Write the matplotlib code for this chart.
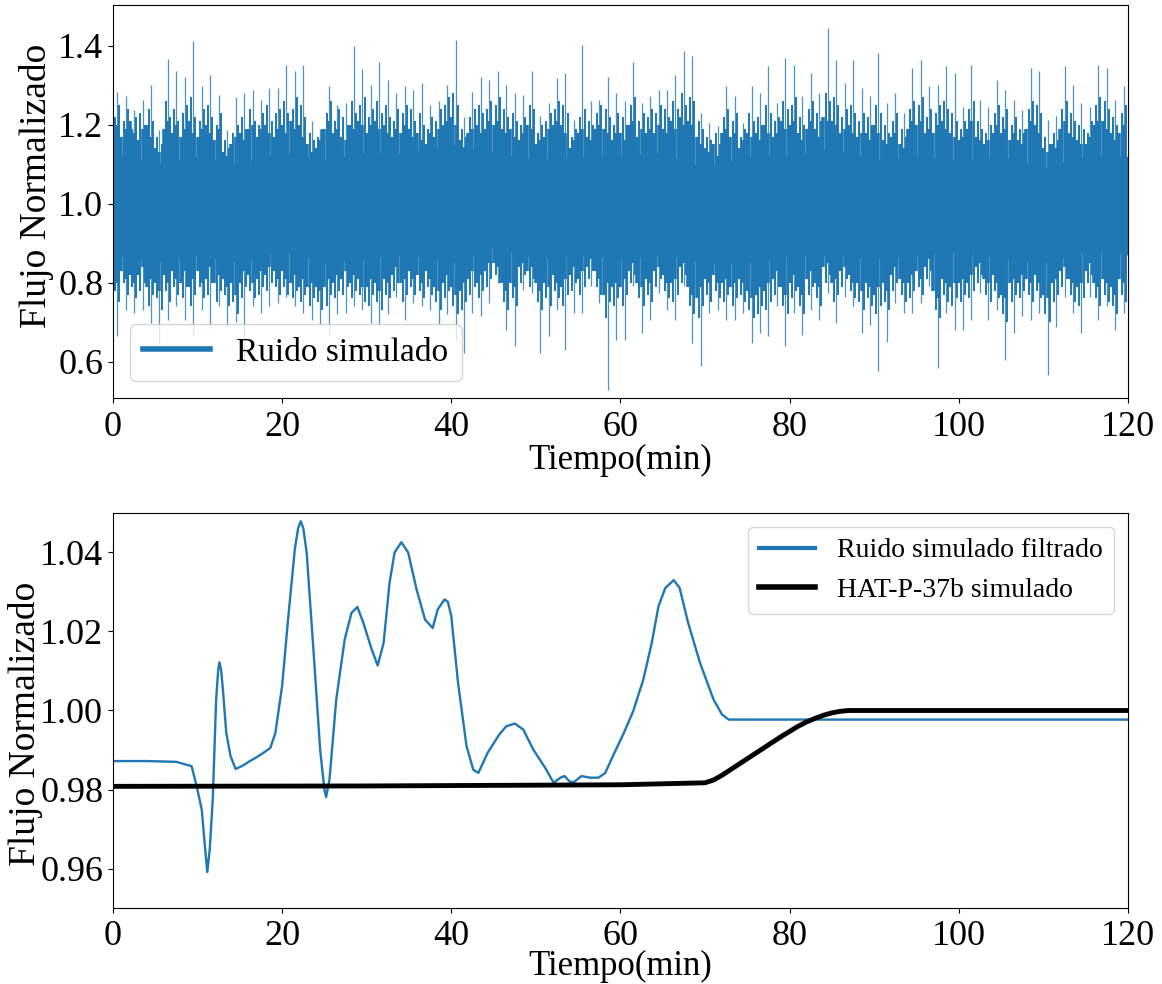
import numpy as np
import matplotlib
matplotlib.use("Agg")
import matplotlib.pyplot as plt

# ---------------- data: top panel (simulated noise) -------------
# per-minute extreme spike tips (bins centred at minute + 0.5)
noise_max = [1.284, 1.272, 1.238, 1.263, 1.301, 1.187, 1.366, 1.335, 1.322, 1.411,
             1.297, 1.327, 1.276, 1.187, 1.270, 1.280, 1.289, 1.263, 1.293, 1.293,
             1.350, 1.335, 1.352, 1.210, 1.190, 1.297, 1.251, 1.255, 1.398, 1.340,
             1.300, 1.360, 1.314, 1.280, 1.297, 1.289, 1.305, 1.250, 1.259, 1.300,
             1.415, 1.220, 1.284, 1.322, 1.314, 1.335, 1.301, 1.280, 1.276, 1.335,
             1.221, 1.255, 1.318, 1.331, 1.213, 1.403, 1.260, 1.263, 1.322, 1.280,
             1.259, 1.360, 1.255, 1.272, 1.289, 1.289, 1.327, 1.386, 1.373, 1.230,
             1.204, 1.196, 1.297, 1.272, 1.204, 1.297, 1.280, 1.348, 1.255, 1.369,
             1.352, 1.272, 1.331, 1.280, 1.446, 1.365, 1.305, 1.365, 1.293, 1.272,
             1.381, 1.255, 1.280, 1.230, 1.343, 1.365, 1.297, 1.300, 1.348, 1.331,
             1.246, 1.352, 1.263, 1.246, 1.314, 1.289, 1.263, 1.238, 1.343, 1.335,
             1.213, 1.221, 1.348, 1.301, 1.255, 1.246, 1.352, 1.343, 1.263, 1.297]
noise_min = [0.664, 0.732, 0.723, 0.732, 0.698, 0.647, 0.706, 0.740, 0.706, 0.664,
             0.732, 0.689, 0.740, 0.689, 0.700, 0.588, 0.740, 0.723, 0.740, 0.749,
             0.765, 0.740, 0.723, 0.706, 0.694, 0.664, 0.720, 0.723, 0.740, 0.730,
             0.698, 0.694, 0.720, 0.765, 0.706, 0.749, 0.740, 0.732, 0.694, 0.720,
             0.655, 0.622, 0.723, 0.715, 0.749, 0.799, 0.681, 0.639, 0.782, 0.774,
             0.622, 0.664, 0.732, 0.630, 0.723, 0.723, 0.791, 0.749, 0.529, 0.656,
             0.656, 0.791, 0.673, 0.706, 0.774, 0.732, 0.706, 0.791, 0.647, 0.588,
             0.723, 0.732, 0.706, 0.706, 0.723, 0.647, 0.673, 0.664, 0.740, 0.639,
             0.723, 0.668, 0.732, 0.706, 0.774, 0.698, 0.765, 0.740, 0.673, 0.694,
             0.576, 0.651, 0.749, 0.723, 0.723, 0.749, 0.791, 0.584, 0.723, 0.681,
             0.681, 0.706, 0.774, 0.706, 0.732, 0.605, 0.673, 0.715, 0.706, 0.723,
             0.567, 0.689, 0.765, 0.723, 0.673, 0.765, 0.706, 0.740, 0.681, 0.723]
# half-minute fringe tips (at minute + 0.25 and minute + 0.75)
fringe_max = [1.22, 1.25, 1.21, 1.24, 1.19, 1.22, 1.23, 1.20, 1.24, 1.21, 1.17, 1.15, 1.26, 1.22, 1.24, 1.21, 1.23, 1.25, 1.27, 1.22,
              1.21, 1.24, 1.25, 1.22, 1.20, 1.23, 1.16, 1.14, 1.18, 1.20, 1.22, 1.19, 1.24, 1.21, 1.20, 1.23, 1.25, 1.21, 1.23, 1.24,
              1.26, 1.23, 1.24, 1.27, 1.25, 1.22, 1.18, 1.16, 1.17, 1.19, 1.23, 1.26, 1.21, 1.24, 1.22, 1.20, 1.26, 1.23, 1.25, 1.27,
              1.22, 1.24, 1.26, 1.23, 1.25, 1.22, 1.21, 1.24, 1.23, 1.25, 1.24, 1.21, 1.23, 1.20, 1.19, 1.22, 1.21, 1.24, 1.25, 1.27,
              1.28, 1.25, 1.19, 1.17, 1.22, 1.24, 1.25, 1.23, 1.24, 1.26, 1.25, 1.27, 1.24, 1.22, 1.23, 1.21, 1.20, 1.22, 1.25, 1.24,
              1.18, 1.20, 1.21, 1.23, 1.24, 1.26, 1.25, 1.23, 1.17, 1.19, 1.22, 1.24, 1.21, 1.20, 1.23, 1.25, 1.24, 1.22, 1.20, 1.23,
              1.22, 1.20, 1.25, 1.27, 1.21, 1.23, 1.22, 1.24, 1.23, 1.25, 1.24, 1.22, 1.26, 1.24, 1.28, 1.25, 1.27, 1.26, 1.21, 1.19,
              1.17, 1.16, 1.18, 1.15, 1.22, 1.24, 1.21, 1.23, 1.17, 1.19, 1.23, 1.21, 1.22, 1.20, 1.25, 1.23, 1.21, 1.22, 1.26, 1.24,
              1.25, 1.27, 1.22, 1.20, 1.24, 1.26, 1.23, 1.21, 1.28, 1.26, 1.27, 1.25, 1.22, 1.24, 1.25, 1.23, 1.21, 1.23, 1.22, 1.20,
              1.25, 1.23, 1.20, 1.18, 1.21, 1.23, 1.19, 1.17, 1.24, 1.26, 1.25, 1.27, 1.22, 1.24, 1.23, 1.25, 1.26, 1.24, 1.23, 1.21,
              1.19, 1.21, 1.24, 1.26, 1.21, 1.19, 1.18, 1.20, 1.23, 1.25, 1.22, 1.24, 1.20, 1.22, 1.19, 1.18, 1.24, 1.26, 1.25, 1.23,
              1.17, 1.15, 1.18, 1.16, 1.24, 1.26, 1.23, 1.21, 1.20, 1.19, 1.18, 1.21, 1.25, 1.27, 1.26, 1.24, 1.22, 1.20, 1.23, 1.25]
fringe_min = [0.78, 0.75, 0.80, 0.77, 0.79, 0.76, 0.78, 0.80, 0.74, 0.77, 0.76, 0.73, 0.78, 0.75, 0.79, 0.77, 0.76, 0.79, 0.74, 0.77,
              0.79, 0.76, 0.77, 0.80, 0.75, 0.78, 0.77, 0.74, 0.75, 0.72, 0.76, 0.79, 0.78, 0.76, 0.77, 0.79, 0.78, 0.80, 0.79, 0.77,
              0.79, 0.77, 0.76, 0.78, 0.75, 0.77, 0.74, 0.76, 0.75, 0.73, 0.74, 0.77, 0.76, 0.78, 0.77, 0.79, 0.76, 0.78, 0.77, 0.75,
              0.74, 0.77, 0.75, 0.73, 0.77, 0.76, 0.78, 0.80, 0.75, 0.77, 0.79, 0.77, 0.78, 0.76, 0.79, 0.77, 0.75, 0.73, 0.76, 0.78,
              0.74, 0.72, 0.73, 0.75, 0.77, 0.79, 0.76, 0.78, 0.79, 0.81, 0.82, 0.80, 0.75, 0.73, 0.76, 0.74, 0.80, 0.82, 0.79, 0.81,
              0.75, 0.73, 0.76, 0.74, 0.78, 0.76, 0.74, 0.77, 0.78, 0.80, 0.77, 0.79, 0.81, 0.83, 0.79, 0.77, 0.71, 0.75, 0.74, 0.76,
              0.74, 0.77, 0.80, 0.82, 0.76, 0.74, 0.77, 0.75, 0.79, 0.81, 0.78, 0.76, 0.75, 0.77, 0.80, 0.82, 0.74, 0.72, 0.71, 0.74,
              0.77, 0.75, 0.78, 0.76, 0.75, 0.77, 0.74, 0.76, 0.77, 0.75, 0.73, 0.71, 0.72, 0.74, 0.73, 0.75, 0.77, 0.79, 0.74, 0.72,
              0.76, 0.78, 0.74, 0.72, 0.77, 0.79, 0.76, 0.74, 0.80, 0.82, 0.75, 0.77, 0.79, 0.81, 0.78, 0.76, 0.75, 0.73, 0.76, 0.74,
              0.72, 0.74, 0.75, 0.73, 0.78, 0.80, 0.77, 0.75, 0.76, 0.78, 0.79, 0.77, 0.81, 0.83, 0.73, 0.71, 0.77, 0.75, 0.74, 0.76,
              0.75, 0.77, 0.76, 0.78, 0.80, 0.82, 0.77, 0.75, 0.78, 0.76, 0.72, 0.70, 0.75, 0.77, 0.76, 0.78, 0.77, 0.75, 0.78, 0.76,
              0.72, 0.70, 0.75, 0.77, 0.79, 0.81, 0.77, 0.75, 0.74, 0.76, 0.80, 0.82, 0.76, 0.74, 0.77, 0.75, 0.74, 0.72, 0.77, 0.75]
# half-minute inner tips near the dense band (at minute + 0.0 and minute + 0.5)
inner_max = [1.18, 1.20, 1.17, 1.19, 1.21, 1.18, 1.16, 1.19, 1.20, 1.17, 1.14, 1.13, 1.19, 1.21, 1.18, 1.20, 1.17, 1.19, 1.21, 1.18,
             1.17, 1.19, 1.20, 1.18, 1.16, 1.19, 1.13, 1.12, 1.15, 1.17, 1.18, 1.16, 1.19, 1.20, 1.17, 1.19, 1.20, 1.18, 1.17, 1.19,
             1.20, 1.18, 1.21, 1.19, 1.20, 1.17, 1.15, 1.13, 1.14, 1.16, 1.19, 1.21, 1.18, 1.19, 1.17, 1.16, 1.20, 1.19, 1.21, 1.20,
             1.18, 1.20, 1.21, 1.19, 1.20, 1.18, 1.17, 1.19, 1.18, 1.20, 1.19, 1.17, 1.18, 1.16, 1.15, 1.18, 1.17, 1.19, 1.20, 1.21,
             1.22, 1.20, 1.16, 1.14, 1.18, 1.19, 1.20, 1.18, 1.19, 1.21, 1.20, 1.21, 1.19, 1.18, 1.19, 1.17, 1.16, 1.18, 1.20, 1.19,
             1.15, 1.16, 1.17, 1.19, 1.20, 1.21, 1.20, 1.18, 1.14, 1.16, 1.18, 1.19, 1.17, 1.16, 1.19, 1.20, 1.19, 1.18, 1.16, 1.18,
             1.18, 1.16, 1.20, 1.21, 1.17, 1.19, 1.18, 1.19, 1.18, 1.20, 1.19, 1.18, 1.21, 1.19, 1.22, 1.20, 1.21, 1.20, 1.17, 1.15,
             1.14, 1.13, 1.15, 1.12, 1.18, 1.19, 1.17, 1.18, 1.14, 1.16, 1.18, 1.17, 1.18, 1.16, 1.20, 1.18, 1.17, 1.18, 1.21, 1.19,
             1.20, 1.21, 1.18, 1.16, 1.19, 1.21, 1.19, 1.17, 1.22, 1.21, 1.21, 1.20, 1.18, 1.19, 1.20, 1.18, 1.17, 1.18, 1.18, 1.16,
             1.20, 1.18, 1.16, 1.15, 1.17, 1.18, 1.15, 1.14, 1.19, 1.21, 1.20, 1.21, 1.18, 1.19, 1.18, 1.20, 1.21, 1.19, 1.18, 1.17,
             1.16, 1.17, 1.19, 1.21, 1.17, 1.16, 1.15, 1.16, 1.18, 1.20, 1.18, 1.19, 1.16, 1.18, 1.16, 1.15, 1.19, 1.21, 1.20, 1.18,
             1.14, 1.13, 1.15, 1.14, 1.19, 1.21, 1.18, 1.17, 1.16, 1.15, 1.15, 1.17, 1.20, 1.21, 1.21, 1.19, 1.18, 1.16, 1.18, 1.20]
inner_min = [0.82, 0.80, 0.83, 0.81, 0.82, 0.80, 0.82, 0.84, 0.79, 0.81, 0.80, 0.78, 0.82, 0.80, 0.83, 0.81, 0.80, 0.83, 0.79, 0.81,
             0.83, 0.80, 0.81, 0.84, 0.80, 0.82, 0.81, 0.79, 0.80, 0.77, 0.80, 0.83, 0.82, 0.80, 0.81, 0.83, 0.82, 0.84, 0.83, 0.81,
             0.83, 0.81, 0.80, 0.82, 0.79, 0.81, 0.79, 0.80, 0.79, 0.78, 0.79, 0.81, 0.80, 0.82, 0.81, 0.83, 0.80, 0.82, 0.81, 0.79,
             0.79, 0.81, 0.80, 0.78, 0.81, 0.80, 0.82, 0.84, 0.80, 0.81, 0.83, 0.81, 0.82, 0.80, 0.83, 0.81, 0.79, 0.78, 0.80, 0.82,
             0.79, 0.77, 0.78, 0.80, 0.81, 0.83, 0.80, 0.82, 0.83, 0.85, 0.85, 0.84, 0.80, 0.78, 0.80, 0.79, 0.84, 0.85, 0.83, 0.84,
             0.80, 0.78, 0.80, 0.79, 0.82, 0.80, 0.79, 0.81, 0.82, 0.84, 0.81, 0.83, 0.84, 0.86, 0.83, 0.81, 0.77, 0.80, 0.79, 0.80,
             0.79, 0.81, 0.83, 0.85, 0.80, 0.79, 0.81, 0.80, 0.83, 0.84, 0.82, 0.80, 0.80, 0.81, 0.84, 0.85, 0.79, 0.77, 0.76, 0.79,
             0.81, 0.80, 0.82, 0.80, 0.80, 0.81, 0.79, 0.80, 0.81, 0.80, 0.78, 0.76, 0.77, 0.79, 0.78, 0.80, 0.81, 0.83, 0.79, 0.77,
             0.80, 0.82, 0.79, 0.77, 0.81, 0.83, 0.80, 0.79, 0.84, 0.85, 0.80, 0.81, 0.83, 0.84, 0.82, 0.80, 0.80, 0.78, 0.80, 0.79,
             0.77, 0.79, 0.80, 0.78, 0.82, 0.84, 0.81, 0.80, 0.80, 0.82, 0.83, 0.81, 0.84, 0.86, 0.78, 0.76, 0.81, 0.80, 0.79, 0.80,
             0.80, 0.81, 0.80, 0.82, 0.84, 0.85, 0.81, 0.80, 0.82, 0.80, 0.77, 0.76, 0.80, 0.81, 0.80, 0.82, 0.81, 0.80, 0.82, 0.80,
             0.77, 0.76, 0.80, 0.81, 0.83, 0.84, 0.81, 0.80, 0.79, 0.80, 0.83, 0.85, 0.80, 0.79, 0.81, 0.80, 0.79, 0.77, 0.81, 0.80]
# dense core of the noise band, every 5 minutes
core_time = [0, 5, 10, 15, 20, 25, 30, 35, 40, 45, 50, 55, 60, 65, 70, 75, 80, 85, 90, 95, 100, 105, 110, 115, 120]
core_max = [1.13, 1.10, 1.12, 1.10, 1.13, 1.11, 1.13, 1.13, 1.15, 1.13, 1.11, 1.12, 1.12,
            1.13, 1.09, 1.12, 1.12, 1.14, 1.11, 1.12, 1.11, 1.12, 1.09, 1.12, 1.12]
core_min = [0.87, 0.85, 0.87, 0.85, 0.88, 0.85, 0.86, 0.87, 0.85, 0.89, 0.86, 0.87, 0.86,
            0.87, 0.85, 0.85, 0.87, 0.87, 0.86, 0.87, 0.88, 0.86, 0.85, 0.88, 0.87]

# ---------------- data: bottom panel -------------
filt_time = [0, 4, 7.5, 9.3, 9.9, 10.5, 10.9, 11.15, 11.45, 11.8, 12.2, 12.45, 12.6, 12.8, 13.0,
             13.4, 13.9, 14.5, 15.3, 16.2, 17.0, 17.8, 18.6, 19.2, 20.0, 20.7, 21.5, 21.9, 22.2,
             22.5, 22.9, 23.7, 24.5, 25.0, 25.2, 25.6, 26.4, 27.4, 28.2, 28.9, 29.6, 30.6, 31.3,
             32.0, 32.7, 33.3, 34.1, 34.9, 35.9, 36.9, 37.8, 38.4, 39.2, 39.6, 40.0, 40.8, 41.8,
             42.6, 43.2, 44.3, 45.7, 46.5, 47.5, 48.5, 49.7, 51.1, 52.1, 52.9, 53.4, 54.0, 54.5,
             55.4, 56.4, 57.4, 58.2, 59.2, 60.4, 61.5, 62.7, 63.7, 64.5, 65.3, 66.3, 67.0, 68.0,
             69.4, 71.0, 72.0, 72.8, 120]
filt_flux = [0.9872, 0.9872, 0.9870, 0.9859, 0.9808, 0.9749, 0.9650, 0.9591, 0.9650, 0.9775,
             1.0028, 1.0105, 1.0122, 1.0100, 1.0053, 0.9943, 0.9885, 0.9852, 0.9860, 0.9872,
             0.9882, 0.9893, 0.9905, 0.9943, 1.0062, 1.0230, 1.0408, 1.0462, 1.0479, 1.0462,
             1.0400, 1.0154, 0.9900, 0.9800, 0.9781, 0.9825, 1.0028, 1.0180, 1.0247, 1.0262,
             1.0222, 1.0154, 1.0114, 1.0171, 1.0323, 1.0400, 1.0426, 1.0400, 1.0306, 1.0230,
             1.0209, 1.0256, 1.0281, 1.0275, 1.0239, 1.0070, 0.9910, 0.9850, 0.9842, 0.9893,
             0.9940, 0.9960, 0.9967, 0.9952, 0.9901, 0.9855, 0.9817, 0.9830, 0.9834, 0.9820,
             0.9819, 0.9834, 0.9830, 0.9830, 0.9842, 0.9889, 0.9943, 0.9998, 1.0078, 1.0171,
             1.0264, 1.0310, 1.0330, 1.0310, 1.0222, 1.0121, 1.0028, 0.9990, 0.9977, 0.9977]
model_time = [0, 30, 60, 70, 71, 72, 73, 75, 77, 79, 81, 82, 83, 84, 85, 86, 87, 120]
model_flux = [0.9808, 0.9809, 0.9812, 0.9817, 0.9824, 0.9836, 0.9850, 0.9878, 0.9906, 0.9934,
              0.9960, 0.9971, 0.9980, 0.9988, 0.9994, 0.9998, 1.0000, 1.0000]

x_ticks = [0, 20, 40, 60, 80, 100, 120]
top_yticks = [0.6, 0.8, 1.0, 1.2, 1.4]
bot_yticks = [0.96, 0.98, 1.00, 1.02, 1.04]

# ---------------- figure -------------
plt.rcParams['font.family'] = ['Liberation Serif', 'DejaVu Serif']
blue = '#1f77b4'
fig = plt.figure(figsize=(11.62, 9.84), dpi=100)
ax1 = fig.add_axes([0.0972, 0.5955, 0.8735, 0.3994])
ax2 = fig.add_axes([0.0972, 0.0772, 0.8735, 0.4015])

minute_t = np.arange(len(noise_max)) + 0.5
fringe_t = np.arange(len(fringe_max)) * 0.5 + 0.25
inner_t = np.arange(len(inner_max)) * 0.5
ax1.fill_between(core_time, core_min, core_max, color=blue, lw=0)
ax1.vlines(inner_t, inner_min, inner_max, color=blue, lw=2.6)
ax1.vlines(fringe_t, fringe_min, fringe_max, color=blue, lw=1.4)
ax1.vlines(minute_t, noise_min, noise_max, color=blue, lw=0.9, alpha=0.8)
ax1.plot([], [], color=blue, lw=4, label='Ruido simulado')
ax1.set_xlim(0, 120)
ax1.set_ylim(0.508, 1.503)
ax1.set_xticks(x_ticks)
ax1.set_yticks(top_yticks)
ax1.set_yticklabels([f"{v:.1f}" for v in top_yticks])
ax1.set_xlabel('Tiempo(min)', fontsize=25, labelpad=0)
ax1.set_ylabel('Flujo Normalizado', fontsize=27)
ax1.yaxis.set_label_coords(-0.058, 0.54)
ax1.tick_params(labelsize=26)
ax1.tick_params(axis='x', pad=6)
ax1.legend(loc='lower left', fontsize=24)

ax2.plot(filt_time, filt_flux, color=blue, lw=1.7, label='Ruido simulado filtrado')
ax2.plot(model_time, model_flux, color='black', lw=3.5, label='HAT-P-37b simulado')
ax2.set_xlim(0, 120)
ax2.set_ylim(0.95, 1.05)
ax2.set_xticks(x_ticks)
ax2.set_yticks(bot_yticks)
ax2.set_yticklabels([f"{v:.2f}" for v in bot_yticks])
ax2.set_xlabel('Tiempo(min)', fontsize=25, labelpad=-2)
ax2.set_ylabel('Flujo Normalizado', fontsize=27)
ax2.yaxis.set_label_coords(-0.069, 0.465)
ax2.tick_params(labelsize=26)
ax2.tick_params(axis='x', pad=5)
leg = ax2.legend(loc='upper right', fontsize=20)
leg.get_lines()[0].set_linewidth(3)
leg.get_lines()[1].set_linewidth(4)

fig.savefig('out.png', dpi=100)
